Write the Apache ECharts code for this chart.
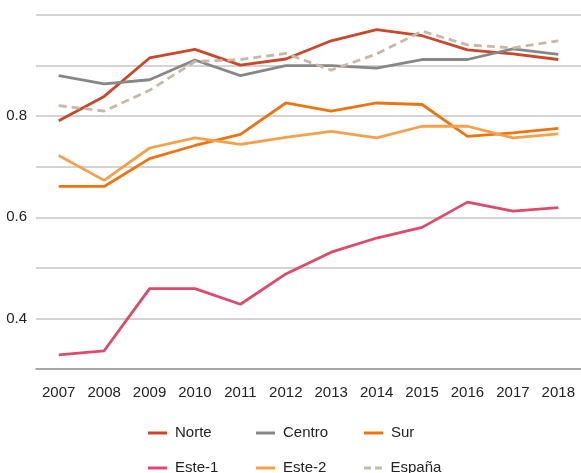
<!DOCTYPE html>
<html>
<head>
<meta charset="utf-8">
<script src="https://cdn.jsdelivr.net/npm/echarts@6/dist/echarts.min.js"></script>
<style>
  html, body { margin: 0; padding: 0; background: #fff; }
  #chart { width: 581px; height: 473px; }
</style>
</head>
<body>
<div id="chart"></div>
<script>
const years = ['2007', '2008', '2009', '2010', '2011', '2012', '2013', '2014', '2015', '2016', '2017', '2018'];

const norte = [0.791, 0.839, 0.915, 0.932, 0.901, 0.913, 0.949, 0.971, 0.959, 0.931, 0.923, 0.912];
const centro = [0.880, 0.864, 0.872, 0.911, 0.880, 0.900, 0.900, 0.895, 0.912, 0.912, 0.933, 0.922];
const sur = [0.661, 0.661, 0.716, 0.742, 0.764, 0.826, 0.810, 0.826, 0.823, 0.760, 0.767, 0.776];
const este1 = [0.328, 0.336, 0.459, 0.459, 0.428, 0.488, 0.531, 0.559, 0.580, 0.630, 0.612, 0.619];
const este2 = [0.722, 0.673, 0.737, 0.757, 0.744, 0.758, 0.770, 0.757, 0.780, 0.780, 0.757, 0.765];
const espana = [0.821, 0.810, 0.851, 0.908, 0.912, 0.924, 0.891, 0.923, 0.968, 0.941, 0.935, 0.949];

const yTicksShown = [4, 6, 8]; // 0.4, 0.6, 0.8

const font = "'Liberation Sans', Arial, sans-serif";

const solidIcon = 'rect';
const dashIcon = 'path://M0,0h7v3h-7z M11,0h7v3h-7z';

const chart = echarts.init(document.getElementById('chart'));

function line(name, data, color, dashed) {
  return {
    name: name,
    type: 'line',
    data: data,
    symbol: 'none',
    color: color,
    lineStyle: { color: color, width: 2.8, type: dashed ? [8, 5] : 'solid' },
    animation: false
  };
}

// una leyenda por elemento: 3 columnas x 2 filas
function legendItem(name, left, top) {
  return {
    left: left,
    top: top,
    itemWidth: 19,
    itemHeight: 3,
    textStyle: { fontFamily: font, fontSize: 15, lineHeight: 16, color: '#222', padding: [0, 0, 0, 3] },
    data: [{ name: name, icon: name === 'España' ? dashIcon : solidIcon }]
  };
}

chart.setOption({
  backgroundColor: '#fff',
  grid: { left: 36, right: 0, top: 15, bottom: 104 },
  legend: [
    legendItem('Norte', 143, 420),
    legendItem('Centro', 251, 420),
    legendItem('Sur', 359, 420),
    legendItem('Este-1', 143, 455),
    legendItem('Este-2', 251, 455),
    legendItem('España', 359, 455)
  ],
  xAxis: {
    type: 'category',
    data: years,
    boundaryGap: true,
    axisLine: { show: true, lineStyle: { color: '#999', width: 1.5 } },
    axisTick: { show: false },
    axisLabel: { interval: 0, fontFamily: font, fontSize: 15, color: '#222', margin: 16 }
  },
  yAxis: {
    type: 'value',
    min: 0.3,
    max: 1.0,
    interval: 0.1,
    axisLine: { show: false },
    axisTick: { show: false },
    splitLine: { lineStyle: { color: '#c4c4c4', width: 1.5 } },
    axisLabel: {
      fontFamily: font,
      fontSize: 15,
      color: '#222',
      margin: 9,
      formatter: (v) => (yTicksShown.includes(Math.round(v * 10)) ? v.toFixed(1) : '')
    }
  },
  series: [
    line('Norte', norte, '#c9472b'),
    line('Centro', centro, '#878787'),
    line('Sur', sur, '#ee7410'),
    line('Este-1', este1, '#dc4a6c'),
    line('Este-2', este2, '#f6a04b'),
    line('España', espana, '#c7b8a8', true)
  ]
});
</script>
</body>
</html>
